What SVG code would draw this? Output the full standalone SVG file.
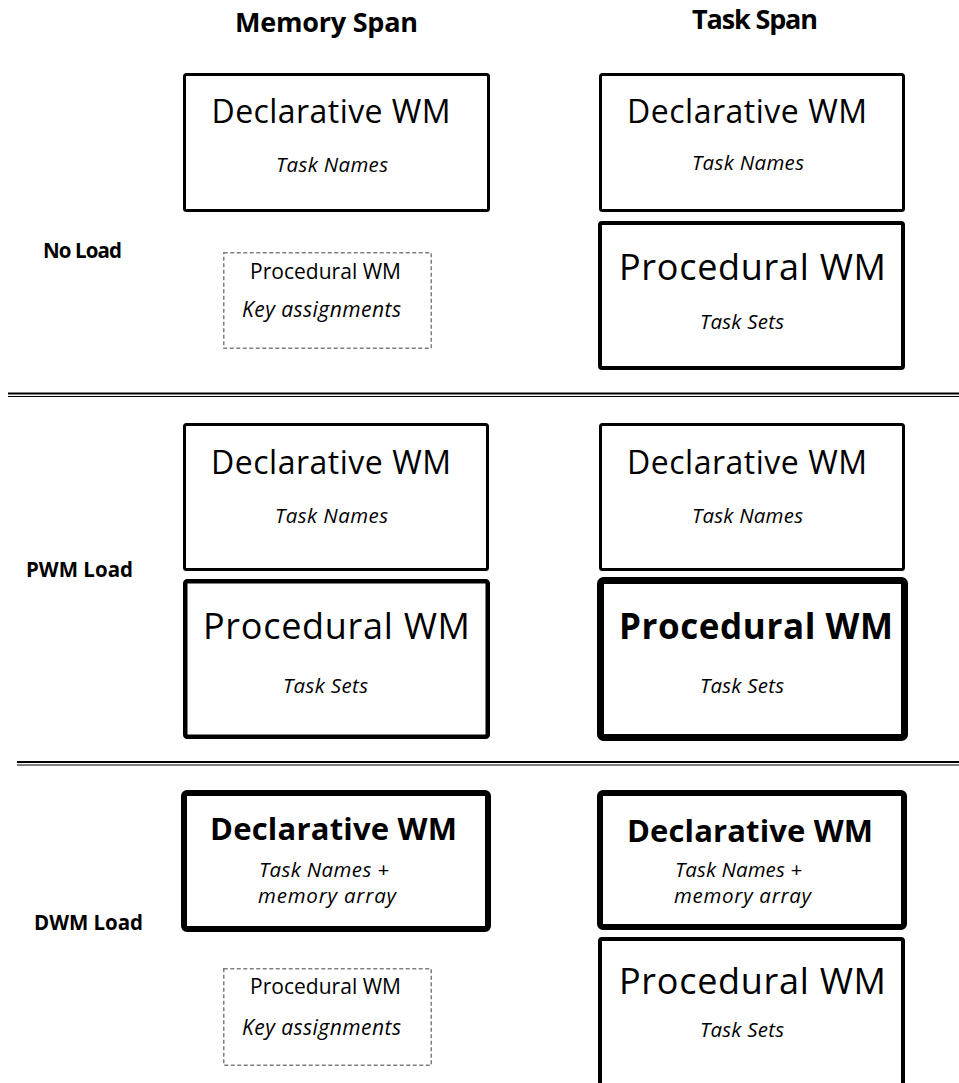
<svg xmlns="http://www.w3.org/2000/svg" width="959" height="1083" viewBox="0 0 959 1083">
<style>
text{font-family:"Open Sans","Noto Sans","Liberation Sans",sans-serif;fill:#000;text-anchor:middle}
.hdr{font-weight:bold;font-size:27px}
.lbl{font-weight:bold;font-size:20.5px}
.big{font-size:32px}
.bigb{font-size:31px;font-weight:bold}
.proc{font-size:36px}
.procb{font-size:35px;font-weight:bold}
.it{font-style:italic;font-size:20.5px}
.sm{font-size:21px}
.box{fill:#fff;stroke:#000}
.dash{fill:#fff;stroke:#7f7f7f;stroke-width:1.5;stroke-dasharray:4 2.5}
.sep{stroke:#000}
</style>

<g id="headers">
<text class="hdr" x="326.5" y="32" textLength="183">Memory Span</text>
<text class="hdr" x="755" y="29" textLength="126">Task Span</text>
</g>

<g id="row-labels">
<text class="lbl" x="82.5" y="258" textLength="79">No Load</text>
<text class="lbl" x="79.5" y="577" textLength="107">PWM Load</text>
<text class="lbl" x="88.5" y="930" textLength="109">DWM Load</text>
</g>

<g id="separators">
<line class="sep" x1="8" y1="393.5" x2="959" y2="393.5" stroke-width="2"/>
<line class="sep" x1="8" y1="396.5" x2="959" y2="396.5" stroke-width="1"/>
<line class="sep" x1="17" y1="762" x2="959" y2="762" stroke-width="2"/>
<line class="sep" x1="17" y1="765" x2="959" y2="765" stroke-width="1"/>
</g>

<!-- No Load -->
<g id="noload-mem-dwm">
<rect class="box" x="184.5" y="74.5" width="304" height="136" rx="2" stroke-width="3"/>
<text class="big" x="331" y="123" textLength="239">Declarative WM</text>
<text class="it" x="332" y="172" textLength="112">Task Names</text>
</g>
<g id="noload-mem-pwm">
<rect class="dash" x="223.75" y="252.75" width="207.5" height="95.5"/>
<text class="sm" x="325.5" y="279" textLength="151">Procedural WM</text>
<text class="it sm" x="321.5" y="317" textLength="159">Key assignments</text>
</g>
<g id="noload-task-dwm">
<rect class="box" x="600.5" y="74.5" width="303" height="136" rx="2" stroke-width="3"/>
<text class="big" x="747" y="123" textLength="240">Declarative WM</text>
<text class="it" x="748" y="170" textLength="112">Task Names</text>
</g>
<g id="noload-task-pwm">
<rect class="box" x="600" y="223" width="303" height="145" rx="2" stroke-width="4"/>
<text class="proc" x="752.5" y="280" textLength="267">Procedural WM</text>
<text class="it" x="742" y="329" textLength="84">Task Sets</text>
</g>

<!-- PWM Load -->
<g id="pwm-mem-dwm">
<rect class="box" x="184.5" y="424.5" width="303" height="145" rx="2" stroke-width="3"/>
<text class="big" x="331" y="474" textLength="240">Declarative WM</text>
<text class="it" x="331.5" y="523" textLength="113">Task Names</text>
</g>
<g id="pwm-mem-pwm">
<rect class="box" x="185.25" y="581.25" width="302.5" height="155.5" rx="2" stroke-width="4.5"/>
<text class="proc" x="336.5" y="639" textLength="267">Procedural WM</text>
<text class="it" x="325.5" y="693" textLength="85">Task Sets</text>
</g>
<g id="pwm-task-dwm">
<rect class="box" x="600.5" y="424.5" width="303" height="145" rx="2" stroke-width="3"/>
<text class="big" x="747" y="474" textLength="240">Declarative WM</text>
<text class="it" x="747.5" y="523" textLength="111">Task Names</text>
</g>
<g id="pwm-task-pwm">
<rect class="box" x="600.5" y="580.5" width="304" height="157" rx="3" stroke-width="7"/>
<text class="procb" x="756" y="639" textLength="274">Procedural WM</text>
<text class="it" x="742" y="693" textLength="84">Task Sets</text>
</g>

<!-- DWM Load -->
<g id="dwm-mem-dwm">
<rect class="box" x="184" y="793" width="304" height="136" rx="3" stroke-width="6"/>
<text class="bigb" x="333.5" y="840" textLength="247">Declarative WM</text>
<text class="it" x="324" y="877" textLength="130">Task Names +</text>
<text class="it" x="327" y="903" textLength="138">memory array</text>
</g>
<g id="dwm-mem-pwm">
<rect class="dash" x="223.75" y="968.75" width="207.5" height="96.5"/>
<text class="sm" x="325.5" y="994" textLength="151">Procedural WM</text>
<text class="it sm" x="321.5" y="1035" textLength="159">Key assignments</text>
</g>
<g id="dwm-task-dwm">
<rect class="box" x="600" y="793" width="304" height="134" rx="3" stroke-width="6"/>
<text class="bigb" x="750" y="842" textLength="246">Declarative WM</text>
<text class="it" x="738.5" y="877" textLength="127">Task Names +</text>
<text class="it" x="742.5" y="903" textLength="137">memory array</text>
</g>
<g id="dwm-task-pwm">
<rect class="box" x="600" y="939" width="303" height="200" rx="2" stroke-width="4"/>
<text class="proc" x="752.5" y="994" textLength="267">Procedural WM</text>
<text class="it" x="742" y="1037" textLength="84">Task Sets</text>
</g>
</svg>
